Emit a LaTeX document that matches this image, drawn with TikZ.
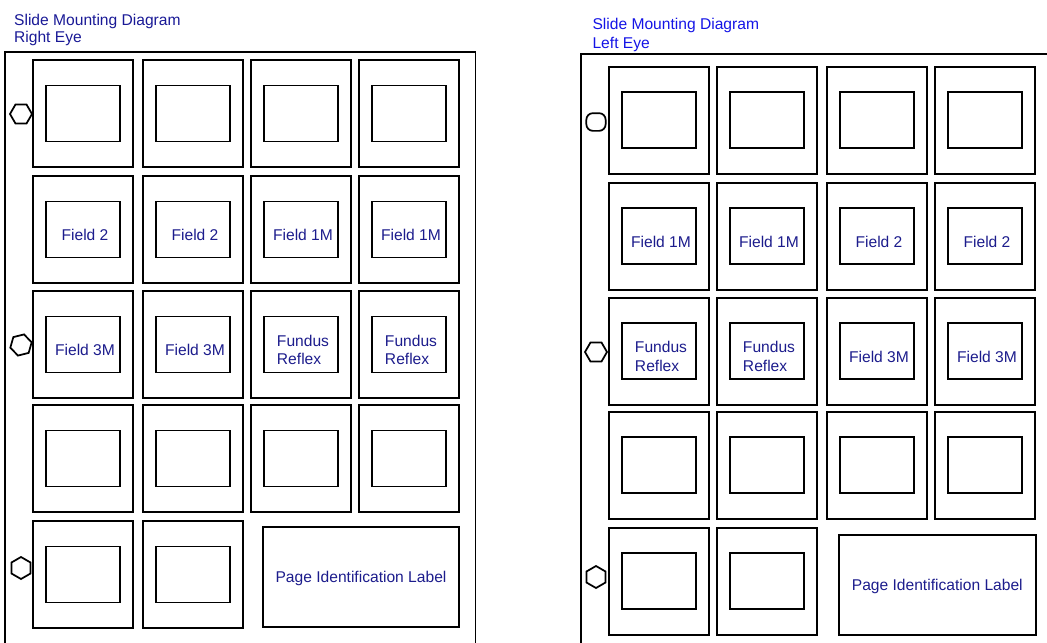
\documentclass[tikz,border=0pt]{standalone}
\usepackage{fontspec}
\setmainfont{Liberation Sans}
\usetikzlibrary{shapes.geometric,positioning}
\definecolor{labelblue}{RGB}{28,28,140}
\definecolor{titlenavy}{RGB}{25,25,150}
\definecolor{titleblue}{RGB}{20,20,230}
\tikzset{
    sleeve/.style ={draw, minimum width=75pt, minimum height=80.25pt, inner sep=0pt},
    heavy/.style ={line width=1.8pt},
    slide/.style ={draw, minimum width=56pt, minimum height=42pt, inner sep=0pt},
    idlabel/.style ={draw, minimum width=147.5pt, minimum height=75pt, text=labelblue,
        font=\fontsize{11.7}{14}\selectfont, text depth=0pt},
    txt/.style = {text=labelblue, font=\fontsize{11.7}{14}\selectfont, align=left,
        inner sep=0pt, xshift=1.5pt, yshift=-4pt},
    hole/.style = {draw, regular polygon, regular polygon sides=6, minimum size=16.5pt, inner sep=0pt},
    ring/.style = {draw, rectangle, rounded corners=5pt, minimum width=14.5pt, minimum height=13.3pt, inner sep=0pt},
    title/.style = {font=\fontsize{11.7}{14}\selectfont, anchor=base west, inner sep=0pt}
}

\begin{document}
\begin{tikzpicture}[x=0.75pt, y=-0.75pt, line width=1.3pt]

    \useasboundingbox (0,0) rectangle (1047,643);

    % Right eye page (left sheet)
    \node[title, text=titlenavy] (rtitle) at (13.3,25.7) {Slide Mounting Diagram};
    \node[title, text=titlenavy] (reye) at (13.3,42.7) {Right Eye};

    \coordinate (rb1) at (5,643);
    \coordinate (rt1) at (5,52);
    \coordinate (rt2) at (475.5,52);
    \coordinate (rb2) at (475.5,643);
    \draw (rb1) -- (rt1) -- (rt2) -- (rb2);

    \node[hole] (rh1) at (21,114) {};
    \node[hole, rotate=14] (rh2) at (21,345) {};
    \node[hole, rotate=30] (rh3) at (21,568) {};

    \foreach \x [count=\col] in {83,193,301,409}{
        \foreach \y [count=\row] in {113.5,229.5,344.5,458.5}{
            \node[sleeve] (r\row\col) at (\x,\y) {};
            \node[slide] (r\row\col s) at (r\row\col) {};
        }
    }
    \node[sleeve] (r51) at (83,574.5) {};
    \node[slide] (r51s) at (r51) {};
    \node[sleeve] (r52) at (193,574.5) {};
    \node[slide] (r52s) at (r52) {};
    \node[idlabel] (rid) at (361,576.7) {Page Identification Label};
    \node[sleeve, heavy] at (r32) {};

    \foreach \t [count=\col] in {Field 2, Field 2, Field 1M, Field 1M}
        \node[txt] (rl2\col) at (r2\col s) {\t};
    \foreach \t [count=\col] in {Field 3M, Field 3M, {Fundus\\Reflex}, {Fundus\\Reflex}}
        \node[txt] (rl3\col) at (r3\col s) {\t};

    % Left eye page (right sheet)
    \node[title, text=titleblue] (ltitle) at (591.7,29.3) {Slide Mounting Diagram};
    \node[title, text=titleblue] (leye) at (591.7,48.3) {Left Eye};

    \coordinate (lb1) at (581,643);
    \coordinate (lt1) at (581,54);
    \coordinate (lt2) at (1047,54);
    \draw (lb1) -- (lt1) -- (lt2);

    \node[ring] (lh1) at (596,122) {};
    \node[hole] (lh2) at (596,352) {};
    \node[hole, rotate=30] (lh3) at (596,577) {};

    \foreach \x [count=\col] in {659,767,877,985}{
        \foreach \y [count=\row] in {120.2,236.2,351.2,465.2}{
            \node[sleeve] (l\row\col) at (\x,\y) {};
            \node[slide] (l\row\col s) at (l\row\col) {};
        }
    }
    \node[sleeve] (l51) at (659,581.2) {};
    \node[slide] (l51s) at (l51) {};
    \node[sleeve] (l52) at (767,581.2) {};
    \node[slide] (l52s) at (l52) {};
    \node[idlabel] (lid) at (937.3,584.7) {Page Identification Label};
    \node[sleeve, heavy] at (l32) {};

    \foreach \t [count=\col] in {Field 1M, Field 1M, Field 2, Field 2}
        \node[txt] (ll2\col) at (l2\col s) {\t};
    \foreach \t [count=\col] in {{Fundus\\Reflex}, {Fundus\\Reflex}, Field 3M, Field 3M}
        \node[txt] (ll3\col) at (l3\col s) {\t};

\end{tikzpicture}
\end{document}
